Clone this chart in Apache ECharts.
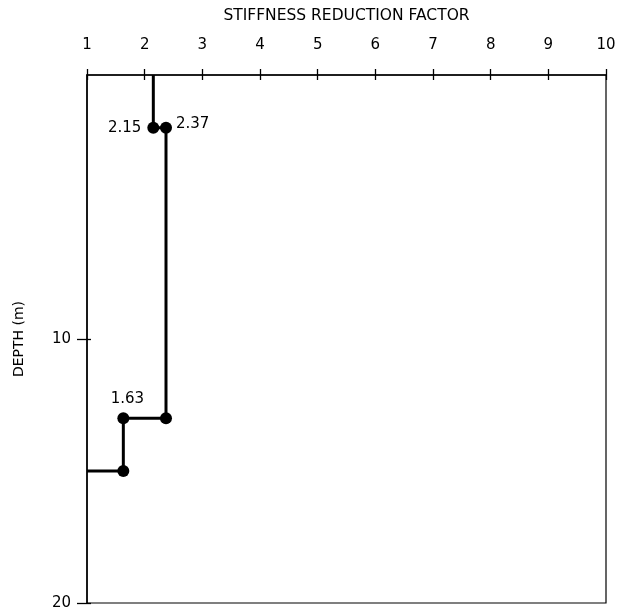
<!DOCTYPE html>
<html>
<head>
<meta charset="utf-8">
<script src="https://cdn.jsdelivr.net/npm/echarts@6/dist/echarts.min.js"></script>
<style>
  html, body { margin: 0; padding: 0; background: #fff; }
  #chart { width: 629px; height: 616px; }
</style>
</head>
<body>
<div id="chart"></div>
<script>
// step profile of stiffness reduction factor with depth
const factor = [2.15, 2.15, 2.37, 2.37, 1.63, 1.63, 1]
const depth = [0, 2, 2, 13, 13, 15, 15]
const pointLabels = ["", "2.15", "2.37", "", "1.63", "", ""]
const labelPos = ["", "left", "right", "", "top", "", ""]
const hasMarker = [false, true, true, true, true, true, false]
const depthTicks = [10, 20]

const font = "DejaVu Sans"
const chart = echarts.init(document.getElementById("chart"))

const data = factor.map((f, i) => ({
  value: [f, depth[i]],
  symbol: hasMarker[i] ? "circle" : "none",
  label: {
    show: pointLabels[i] !== "",
    formatter: pointLabels[i],
    position: labelPos[i] || "top",
    offset: labelPos[i] === "right" ? [-2, -4] : labelPos[i] === "top" ? [4, 0] : [0, 0],
    distance: 6,
    color: "#000",
    fontFamily: font,
    fontSize: 15,
  },
}))

const option = {
  backgroundColor: "#fff",
  animation: false,
  grid: {
    left: 87,
    right: 23,
    top: 75,
    bottom: 13,
    show: true,
    borderColor: "#000",
    borderWidth: 1.2,
  },
  xAxis: [
    {
      type: "value",
      position: "top",
      min: 1,
      max: 10,
      interval: 1,
      name: "STIFFNESS REDUCTION FACTOR",
      nameLocation: "middle",
      nameGap: 51,
      nameTextStyle: { color: "#000", fontFamily: font, fontSize: 15.5 },
      axisLine: { show: true, lineStyle: { color: "#000", width: 1.5 } },
      axisTick: { show: true, length: 6, lineStyle: { color: "#000", width: 1.3 } },
      axisLabel: { color: "#000", fontFamily: font, fontSize: 15, margin: 22 },
      splitLine: { show: false },
    },
    {
      type: "value",
      position: "top",
      min: 1,
      max: 10,
      interval: 1,
      axisLine: { show: false },
      axisTick: { show: true, inside: true, length: 5, lineStyle: { color: "#000", width: 1.3 } },
      axisLabel: { show: false },
      splitLine: { show: false },
    },
  ],
  yAxis: [
    {
      type: "value",
      inverse: true,
      min: 0,
      max: 20,
      interval: 10,
      name: "DEPTH (m)",
      nameLocation: "middle",
      nameGap: 61,
      nameRotate: 90,
      nameTextStyle: { color: "#000", fontFamily: font, fontSize: 14 },
      axisLine: { show: true, lineStyle: { color: "#000", width: 1.5 } },
      axisTick: {
        show: true,
        length: 10,
        customValues: depthTicks,
        lineStyle: { color: "#000", width: 1.3 },
      },
      axisLabel: {
        color: "#000",
        fontFamily: font,
        fontSize: 15,
        margin: 16,
        customValues: depthTicks,
      },
      splitLine: { show: false },
    },
    {
      type: "value",
      inverse: true,
      position: "left",
      min: 0,
      max: 20,
      interval: 10,
      axisLine: { show: false },
      axisTick: {
        show: true,
        inside: true,
        length: 4,
        customValues: depthTicks,
        lineStyle: { color: "#000", width: 1.3 },
      },
      axisLabel: { show: false },
      splitLine: { show: false },
    },
  ],
  series: [
    {
      type: "line",
      data: data,
      symbolSize: 12,
      itemStyle: { color: "#000" },
      lineStyle: { color: "#000", width: 3 },
    },
  ],
}

chart.setOption(option)
</script>
</body>
</html>
